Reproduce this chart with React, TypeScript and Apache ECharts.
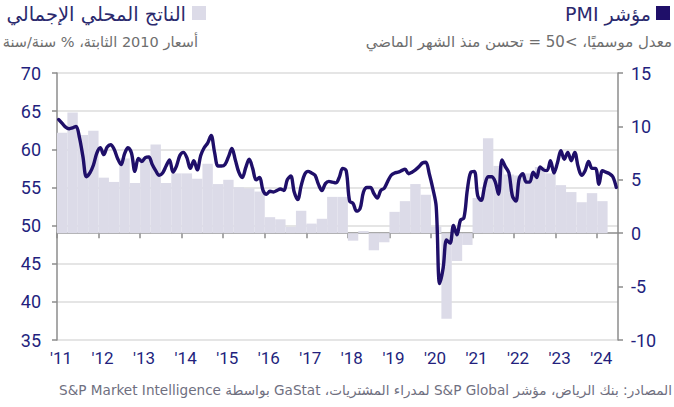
import React, { useEffect, useRef } from 'react';
import * as echarts from 'echarts';

// x axis: months since Jan 2011 (axis runs Jan 2011 .. end of Jun 2024)
const firstYear = 11;
const yearTickLabels = ["'11", "'12", "'13", "'14", "'15", "'16", "'17", "'18", "'19", "'20", "'21", "'22", "'23", "'24"];

// PMI, monthly, seasonally adjusted
const pmi2011 = [63.9, 63.4, 62.9, 62.7, 62.8, 63.0, 61.5, 59.0, 56.4, 56.9, 57.9, 59.5];
const pmi2012 = [60.2, 59.3, 60.3, 60.6, 60.0, 58.8, 58.0, 59.4, 60.2, 59.5, 57.1, 58.8];
const pmi2013 = [58.4, 58.9, 59.0, 58.0, 57.2, 56.6, 56.9, 57.8, 58.6, 57.0, 57.8, 59.2];
const pmi2014 = [59.6, 58.9, 57.5, 58.5, 57.3, 59.2, 60.2, 60.8, 61.8, 59.6, 57.8, 57.8];
const pmi2015 = [58.0, 59.0, 60.1, 58.6, 57.0, 56.3, 57.6, 58.7, 57.5, 56.0, 56.3, 54.6];
const pmi2016 = [54.1, 54.5, 54.4, 54.6, 54.8, 54.6, 56.0, 56.5, 54.4, 53.4, 55.2, 56.7];
const pmi2017 = [57.1, 56.9, 56.6, 55.4, 54.6, 55.5, 55.8, 55.7, 55.6, 56.3, 57.5, 57.2];
const pmi2018 = [53.2, 52.9, 51.9, 52.2, 54.4, 55.0, 55.0, 54.2, 53.6, 54.6, 54.9, 55.8];
const pmi2019 = [56.6, 56.9, 57.0, 57.2, 57.4, 56.8, 57.0, 57.3, 57.7, 58.2, 58.3, 56.8];
const pmi2020 = [54.9, 52.5, 42.4, 44.4, 48.1, 47.7, 50.0, 48.8, 50.7, 51.0, 54.7, 57.0];
const pmi2021 = [57.1, 53.9, 53.3, 55.2, 56.4, 56.4, 55.8, 54.1, 58.6, 57.7, 56.9, 53.9];
const pmi2022 = [53.2, 56.2, 56.8, 55.7, 55.7, 57.0, 56.3, 57.7, 57.3, 57.2, 58.5, 56.9];
const pmi2023 = [58.2, 59.8, 58.7, 59.6, 58.5, 59.6, 57.7, 56.6, 57.2, 58.4, 57.5, 57.5];
const pmi2024 = [55.4, 57.2, 57.0, 56.8, 56.4, 55.0];

// Real GDP, quarterly, % y/y (2010 constant prices), Q1 2011 .. Q1 2024
const gdp2011 = [9.4, 11.3, 9.2, 9.6];
const gdp2012 = [5.2, 4.8, 7.0, 4.7];
const gdp2013 = [7.1, 8.3, 4.7, 5.6];
const gdp2014 = [5.6, 5.1, 6.5, 4.6];
const gdp2015 = [5.0, 4.3, 4.2, 3.9];
const gdp2016 = [1.5, 1.3, 0.6, 2.1];
const gdp2017 = [0.9, 1.35, 3.4, 3.4];
const gdp2018 = [-0.7, 0.2, -1.6, -0.85];
const gdp2019 = [2.0, 3.0, 4.6, 3.6];
const gdp2020 = [0.6, -8.0, -2.6, -1.1];
const gdp2021 = [3.3, 8.9, 6.3, 5.5];
const gdp2022 = [5.4, 5.6, 6.2, 5.6];
const gdp2023 = [4.5, 3.85, 2.9, 3.75];
const gdp2024 = [3.0];

const pmi = [
  ...pmi2011, ...pmi2012, ...pmi2013, ...pmi2014, ...pmi2015, ...pmi2016, ...pmi2017,
  ...pmi2018, ...pmi2019, ...pmi2020, ...pmi2021, ...pmi2022, ...pmi2023, ...pmi2024,
];
const gdp = [
  ...gdp2011, ...gdp2012, ...gdp2013, ...gdp2014, ...gdp2015, ...gdp2016, ...gdp2017,
  ...gdp2018, ...gdp2019, ...gdp2020, ...gdp2021, ...gdp2022, ...gdp2023, ...gdp2024,
];

const titlePmi = 'مؤشر PMI';
const subPmi = 'معدل موسميًا، >50 = تحسن منذ الشهر الماضي';
const titleGdp = 'الناتج المحلي الإجمالي';
const subGdp = 'أسعار 2010 الثابتة، % سنة/سنة';
const sourceText = 'المصادر: بنك الرياض، مؤشر S&P Global لمدراء المشتريات، GaStat بواسطة S&P Market Intelligence';

const NAVY = '#1f0f69';
const LAVENDER = '#dcdbe8';
const LABEL = '#231f7d';
const AXIS = '#8c8c8c';
const TITLE = '#2b2a6e';
const AR_FONT = "'DejaVu Sans', 'Noto Sans', sans-serif";

// right-to-left embedding so that mixed Arabic / Latin text is laid out as Arabic
const rtl = (s: string) => '\u202B' + s + '\u202C';

export default function App() {
  const ref = useRef<HTMLDivElement>(null);
  useEffect(() => {
    const chart = echarts.init(ref.current!, null, { renderer: 'svg' });
    const months = pmi.length; // 162 months
    chart.setOption({
      animation: false,
      backgroundColor: '#ffffff',
      grid: { left: 57, right: 56, top: 73, bottom: 67, containLabel: false },
      xAxis: {
        type: 'value',
        min: 0,
        max: months,
        interval: 12,
        axisLine: { show: true, lineStyle: { color: AXIS, width: 1.5 } },
        axisTick: { show: true, length: 5, lineStyle: { color: AXIS, width: 1.5 } },
        splitLine: { show: false },
        axisLabel: {
          color: LABEL,
          fontFamily: 'Roboto, sans-serif',
          fontSize: 17,
          margin: 9,
          padding: [0, 0, 0, 8],
          showMaxLabel: false,
          formatter: (v: number) => (v % 12 === 0 ? yearTickLabels[v / 12] ?? `'${firstYear + v / 12}` : ''),
        },
      },
      yAxis: [
        {
          type: 'value',
          min: 35,
          max: 70,
          interval: 5,
          position: 'left',
          axisLine: { show: true, lineStyle: { color: AXIS, width: 1.5 } },
          axisTick: { show: true, length: 5, lineStyle: { color: AXIS, width: 1.5 } },
          splitLine: { show: true, lineStyle: { color: '#dcdcdc', width: 1.5 } },
          axisLabel: { color: LABEL, fontFamily: 'Roboto, sans-serif', fontSize: 18, margin: 16 },
        },
        {
          type: 'value',
          min: -10,
          max: 15,
          interval: 5,
          position: 'right',
          axisLine: { show: true, lineStyle: { color: AXIS, width: 1.5 } },
          axisTick: { show: true, length: 5, lineStyle: { color: AXIS, width: 1.5 } },
          splitLine: { show: false },
          axisLabel: { color: LABEL, fontFamily: 'Roboto, sans-serif', fontSize: 18, margin: 13 },
        },
      ],
      series: [
        {
          type: 'custom',
          name: 'gdp',
          yAxisIndex: 1,
          z: 1,
          data: gdp.map((v, i) => [i * 3, v]),
          encode: { x: 0, y: 1 },
          renderItem: (params: any, api: any) => {
            const start = api.value(0);
            const v = api.value(1);
            const p0 = api.coord([start, v]);
            const p1 = api.coord([start + 3, 0]);
            return {
              type: 'rect',
              shape: {
                x: p0[0],
                y: Math.min(p0[1], p1[1]),
                width: p1[0] - p0[0],
                height: Math.abs(p1[1] - p0[1]),
              },
              style: { fill: LAVENDER },
            };
          },
        },
        {
          type: 'line',
          name: 'pmi',
          yAxisIndex: 0,
          z: 3,
          data: pmi.map((v, i) => [i + 0.5, v]),
          symbol: 'none',
          smooth: 0.35,
          lineStyle: { color: NAVY, width: 3.4, cap: 'round', join: 'round' },
        },
      ],
      graphic: [
        { type: 'rect', shape: { x: 656, y: 6, width: 14, height: 14 }, style: { fill: NAVY } },
        {
          type: 'text',
          x: 651,
          y: 14,
          style: { text: rtl(titlePmi), align: 'right', verticalAlign: 'middle', fontFamily: AR_FONT, fontSize: 19, fill: TITLE },
        },
        {
          type: 'text',
          x: 672,
          y: 42,
          style: { text: rtl(subPmi), align: 'right', verticalAlign: 'middle', fontFamily: AR_FONT, fontSize: 15, fill: '#6e6e6e' },
        },
        { type: 'rect', shape: { x: 192, y: 6, width: 14, height: 14 }, style: { fill: LAVENDER } },
        {
          type: 'text',
          x: 186,
          y: 14,
          style: { text: rtl(titleGdp), align: 'right', verticalAlign: 'middle', fontFamily: AR_FONT, fontSize: 19.5, fill: TITLE },
        },
        {
          type: 'text',
          x: 198,
          y: 42,
          style: { text: rtl(subGdp), align: 'right', verticalAlign: 'middle', fontFamily: AR_FONT, fontSize: 14.5, fill: '#6e6e6e' },
        },
        {
          type: 'text',
          x: 672,
          y: 390,
          style: { text: rtl(sourceText), align: 'right', verticalAlign: 'middle', fontFamily: AR_FONT, fontSize: 13.6, fill: '#6f6f7f' },
        },
      ],
    });
    return () => chart.dispose();
  }, []);
  return <div ref={ref} style={{ position: 'fixed', left: 0, top: 0, width: 674, height: 407 }} />;
}
